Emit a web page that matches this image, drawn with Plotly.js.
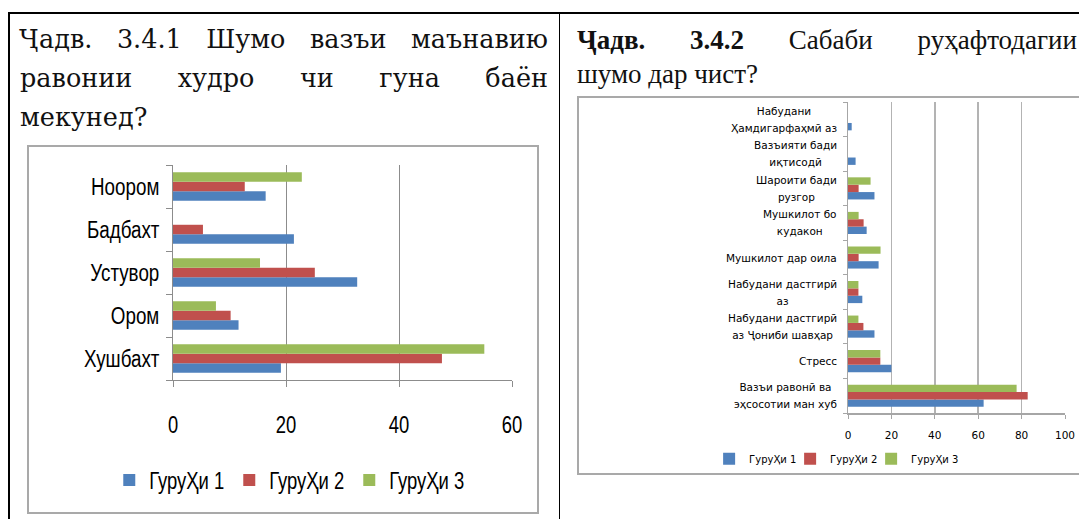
<!DOCTYPE html>
<html><head><meta charset="utf-8">
<script src="https://cdn.plot.ly/plotly-3.0.1.min.js"></script>
<style>
html,body{margin:0;padding:0;background:#fff;width:1079px;height:519px;overflow:hidden;position:relative}
.abs{position:absolute}
#lt{left:20px;top:20px;width:528px;font-family:'DejaVu Serif',serif;font-size:25.5px;line-height:39px;color:#111}
#rt{left:577px;top:23px;width:500px;font-family:'Liberation Serif','Times New Roman',serif;font-size:27px;line-height:34px;color:#111}
.j{text-align:justify;text-align-last:justify;white-space:nowrap}
.box{position:absolute;border:2px solid #a9a9a9;box-sizing:border-box}
.plot{position:absolute}
</style>
</head><body>
<div class="abs" style="left:8px;top:12px;width:1071px;height:2px;background:#000"></div>
<div class="abs" style="left:8px;top:12px;width:2px;height:507px;background:#000"></div>
<div class="abs" style="left:559px;top:13px;width:1px;height:506px;background:#000"></div>

<div id="lt" class="abs">
  <div class="j">Ҷадв. 3.4.1 Шумо вазъи маънавию</div>
  <div class="j">равонии худро чи гуна баён</div>
  <div>мекунед?</div>
</div>
<div id="rt" class="abs">
  <div class="j"><b>Ҷадв. 3.4.2</b> Сабаби руҳафтодагии</div>
  <div>шумо дар чист?</div>
</div>

<div class="box" style="left:27px;top:145px;width:512px;height:369px"></div>
<div class="box" style="left:577px;top:96px;width:530px;height:379px"></div>
<div id="c1" class="plot" style="left:28px;top:145px;width:510px;height:368px"></div>
<div id="c2" class="plot" style="left:578px;top:97px;width:520px;height:400px"></div>

<script>
// ---- Chart 1 data (bottom to top) ----
const cats1 = ['Хушбахт', 'Ором', 'Устувор', 'Бадбахт', 'Ноором'];
const grp1_c1 = [19.1, 11.6, 32.6, 21.4, 16.4];
const grp2_c1 = [47.6, 10.2, 25.1, 5.3, 12.7];
const grp3_c1 = [55.1, 7.6, 15.4, 0, 22.8];
const xticks1 = [0, 20, 40, 60];

// ---- Chart 2 data (bottom to top) ----
const cats2 = [
  'Вазъи равонӣ ва<br>эҳсосотии ман хуб',
  'Стресс',
  'Набудани дастгирӣ<br>аз Ҷониби шавҳар',
  'Набудани дастгирӣ<br>аз',
  'Мушкилот дар оила',
  'Мушкилот бо<br>кудакон',
  'Шароити бади<br>рузгор',
  'Вазъияти бади<br>иқтисодӣ',
  'Набудани<br>Ҳамдигарфаҳмӣ аз'
];
const grp1_c2 = [62.5, 20.0, 12.2, 6.6, 14.1, 8.6, 12.2, 3.5, 1.7];
const grp2_c2 = [82.8, 14.9, 7.1, 4.8, 4.9, 7.2, 4.9, 0, 0];
const grp3_c2 = [77.7, 14.9, 4.8, 4.8, 15.0, 4.9, 10.4, 0, 0];
const xticks2 = [0, 20, 40, 60, 80, 100];

const seriesNames = ['ГуруҲи 1', 'ГуруҲи 2', 'ГуруҲи 3'];
const colors = ['#4F81BD', '#C0504D', '#9BBB59'];

const sans = "'Liberation Sans', Arial, sans-serif";
const verd = "'DejaVu Sans', Verdana, sans-serif";

function traces(cats, vals, lw) {
  return vals.map((v, i) => ({
    type: 'bar', orientation: 'h', y: cats, x: v, name: seriesNames[i],
    legendwidth: lw[i],
    marker: {color: colors[i], line: {width: 0}}, hoverinfo: 'skip'
  }));
}

const lay1 = {
  width: 510, height: 368,
  margin: {l: 145, r: 26, t: 20, b: 133},
  paper_bgcolor: 'rgba(0,0,0,0)', plot_bgcolor: '#fff',
  barmode: 'group', bargap: 0.34, bargroupgap: 0,
  font: {family: sans, size: 23, color: '#000'},
  xaxis: {range: [0, 60], tickvals: xticks1, showgrid: true, gridcolor: '#8c8c8c', gridwidth: 1,
    zeroline: false, showline: true, linecolor: '#8c8c8c', linewidth: 1, ticks: 'outside', ticklen: 6,
    tickcolor: '#8c8c8c', ticklabelstandoff: 18, tickfont: {family: sans, size: 23, color: '#000'}},
  yaxis: {type: 'category', range: [-0.5, 4.5], tickson: 'boundaries', ticks: 'outside', ticklen: 6,
    tickcolor: '#8c8c8c', showline: true, linecolor: '#8c8c8c', linewidth: 1, showgrid: false,
    zeroline: false, ticklabelstandoff: 8, tickfont: {family: sans, size: 23.5, color: '#000'}},
  showlegend: true,
  legend: {orientation: 'h', x: -0.188, xanchor: 'left', y: -0.465, yanchor: 'middle',
    traceorder: 'normal', font: {family: sans, size: 23, color: '#000'},
    bgcolor: 'rgba(0,0,0,0)'}
};

const ann2 = cats2.map(c => ({
  xref: 'paper', yref: 'y', x: 0, y: c, xanchor: 'right', yanchor: 'middle', xshift: -9,
  align: 'center', showarrow: false,
  text: c.split('<br>').map(s => '<span style="font-size:10.5px">' + s + '</span>').join('<br>'),
  font: {family: verd, size: 13, color: '#000'}
}));

const lay2 = {
  width: 520, height: 400,
  margin: {l: 270, r: 32.6, t: 5, b: 83.7},
  paper_bgcolor: 'rgba(0,0,0,0)', plot_bgcolor: '#fff',
  barmode: 'group', bargap: 0.36, bargroupgap: 0,
  font: {family: verd, size: 10.5, color: '#000'},
  xaxis: {range: [0, 100], tickvals: xticks2, showgrid: true, gridcolor: '#b3b3b3', gridwidth: 1.5,
    zeroline: false, showline: true, linecolor: '#a6a6a6', linewidth: 1.5, ticks: 'outside', ticklen: 4,
    tickcolor: '#a6a6a6', ticklabelstandoff: 8, tickfont: {family: verd, size: 10.5, color: '#000'}},
  yaxis: {type: 'category', range: [-0.5, 8.5], tickson: 'boundaries', ticks: 'outside', ticklen: 4,
    tickcolor: '#a6a6a6', showline: true, linecolor: '#a6a6a6', linewidth: 1.5, showgrid: false,
    zeroline: false, showticklabels: false},
  annotations: ann2,
  showlegend: true,
  legend: {orientation: 'h', x: -0.64, xanchor: 'left', y: -0.147, yanchor: 'middle',
    traceorder: 'normal', font: {family: verd, size: 10, color: '#000'},
    bgcolor: 'rgba(0,0,0,0)'}
};

const cfg = {staticPlot: true, displayModeBar: false};
Plotly.newPlot('c1', traces(cats1, [grp1_c1, grp2_c1, grp3_c1], [75, 75, 100]), lay1, cfg).then(() => {
  // condense the chart-1 texts horizontally (narrow font look)
  document.querySelectorAll('#c1 svg text').forEach(t => {
    const w = t.getComputedTextLength();
    if (w > 0) {
      t.setAttribute('textLength', (w * 0.8).toFixed(1));
      t.setAttribute('lengthAdjust', 'spacingAndGlyphs');
    }
  });
});
Plotly.newPlot('c2', traces(cats2, [grp1_c2, grp2_c2, grp3_c2], [36, 36, 55]), lay2, cfg);
</script>
</body></html>
